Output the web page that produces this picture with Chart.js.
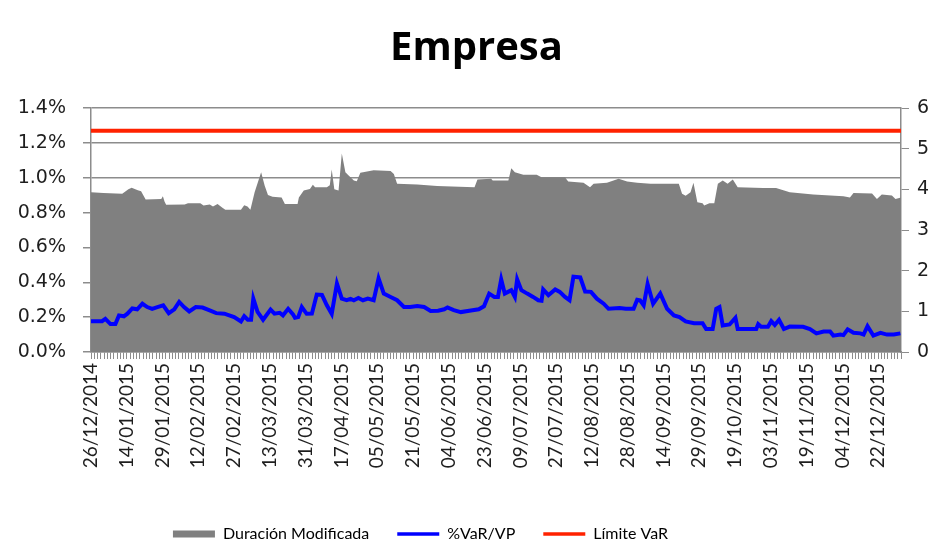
<!DOCTYPE html>
<html>
<head>
<meta charset="utf-8">
<script src="https://cdn.jsdelivr.net/npm/chart.js@4.4.0/dist/chart.umd.min.js"></script>
<style>
  html, body { margin: 0; padding: 0; background: #fff; overflow: hidden; }
  #wrap { width: 933px; height: 550px; overflow: hidden; }
</style>
</head>
<body>
<div id="wrap"><canvas id="empresaChart" width="953" height="550"></canvas></div>
<script>
// ================= DATA =================
// x = business-day index since 26/12/2014 (a label every 11 days)
const tickLabels = ['26/12/2014', '14/01/2015', '29/01/2015', '12/02/2015', '27/02/2015', '13/03/2015',
    '31/03/2015', '17/04/2015', '05/05/2015', '21/05/2015', '04/06/2015', '23/06/2015', '09/07/2015',
    '27/07/2015', '12/08/2015', '28/08/2015', '14/09/2015', '29/09/2015', '19/10/2015', '03/11/2015',
    '19/11/2015', '04/12/2015', '22/12/2015'];
const labelStep = 11;
const lastDay = 249;

// Duración Modificada (right axis)
const durDay = [0, 3.8, 9.6, 11.5, 12.5, 14.4, 15.4, 16.8, 21.6, 22.1, 22.6, 23.1, 28.8, 29.8, 33.6, 34.6,
    36.5, 37.5, 38.9, 40.4, 41.3, 46.1, 47.1, 48.1, 49, 50.3, 52.3, 53.4, 54.4, 55.8, 58.6, 59.6, 63.5,
    63.9, 65.4, 67.3, 68.2, 68.9, 72.5, 73.4, 74, 74.8, 76.1, 77.1, 78.2, 79.2, 80.8, 81.7, 82.8, 86.9,
    92.1, 93.1, 94.1, 100.3, 106.4, 117.9, 118.8, 123, 123.5, 128.3, 129.2, 130.3, 132.9, 137, 138.5,
    145.7, 146.7, 151.4, 153.4, 154.5, 158.6, 162.2, 164.8, 167.9, 172, 180.7, 181.7, 182.8, 184.3,
    185.2, 186.4, 188, 188.5, 190.1, 191.6, 192.7, 194.2, 195.7, 197.3, 198.8, 206.6, 210.6, 214.8,
    222, 231.3, 233.3, 234.4, 240.1, 241.6, 243.1, 246.2, 247.3, 249];
const durVal = [3.93, 3.91, 3.89, 4.0, 4.04, 3.98, 3.95, 3.75, 3.76, 3.83, 3.70, 3.62, 3.63, 3.66, 3.66, 3.60,
    3.63, 3.58, 3.64, 3.55, 3.50, 3.50, 3.61, 3.58, 3.50, 3.93, 4.42, 4.09, 3.86, 3.82, 3.80, 3.64, 3.64,
    3.80, 3.97, 4.01, 4.11, 4.05, 4.05, 4.10, 4.49, 4.0, 3.97, 4.88, 4.42, 4.34, 4.22, 4.20, 4.41, 4.47,
    4.45, 4.38, 4.14, 4.12, 4.08, 4.05, 4.24, 4.26, 4.22, 4.22, 4.52, 4.42, 4.36, 4.36, 4.30,
    4.30, 4.19, 4.16, 4.05, 4.14, 4.16, 4.26, 4.19, 4.16, 4.14, 4.14, 3.89, 3.84, 3.93,
    4.16, 3.68, 3.66, 3.60, 3.66, 3.66, 4.14, 4.22, 4.14, 4.24, 4.05, 4.03, 4.03, 3.93,
    3.87, 3.83, 3.80, 3.91, 3.90, 3.76, 3.87, 3.85, 3.76, 3.80];

// %VaR/VP (left axis, in %)
const varDay = [0, 3.4, 4.4, 6, 7.5, 8.6, 10.1, 11.2, 12.7, 14.2, 15.8, 17.3, 18.8, 20.4, 22.2, 23.9, 25.6,
    27.1, 28.6, 30.2, 32.2, 34.3, 36.3, 38.5, 41, 44, 46.1, 47.1, 48.2, 49.2, 49.9, 51.2, 52.9, 55.2,
    56.4, 58, 59, 60.6, 62.1, 62.7, 63.7, 64.8, 66.3, 67.9, 69.4, 71, 72.5, 74, 75.6, 77.1, 78.6, 79.8,
    80.8, 82.2, 83.6, 85.1, 86.9, 88.4, 90, 92.1, 94.1, 96.2, 98.1, 100.3, 102.4, 104.4, 106.7, 108.6,
    109.6, 111.5, 113.7, 116.3, 119.2, 120.8, 122.4, 124, 125.1, 126.1, 127.2, 128.2, 129.2, 130.3, 131,
    132.3, 134.1, 135.9, 137.5, 138.5, 139, 140.6, 142.7, 144.1, 145.7, 147.1, 148.3, 150.4, 151.9,
    153.7, 155.5, 157.6, 159.1, 162.5, 164.4, 166.8, 167.9, 168.8, 169.9, 171.1, 172.8, 175, 177.1,
    179.2, 180.9, 182.8, 185.4, 188, 189.1, 191.1, 192.2, 193.2, 194.2, 196.3, 198.1, 198.8, 204.5,
    205.1, 206, 208.1, 209.1, 210.2, 211.5, 213, 214.8, 218.9, 221, 223, 225.2, 227.2, 228.2, 230.4,
    231.3, 232.6, 234.4, 236.5, 237.5, 238.7, 240.5, 242.7, 244.7, 246.8, 248.8];
const varVal = [0.177, 0.177, 0.19, 0.16, 0.16, 0.21, 0.205, 0.22, 0.25, 0.245, 0.277, 0.258, 0.248, 0.258,
    0.268, 0.223, 0.245, 0.287, 0.258, 0.233, 0.258, 0.255, 0.24, 0.223, 0.22, 0.2, 0.175, 0.205, 0.185,
    0.185, 0.306, 0.23, 0.185, 0.243, 0.22, 0.225, 0.21, 0.248, 0.216, 0.196, 0.2, 0.258, 0.219, 0.22,
    0.33, 0.328, 0.268, 0.219, 0.393, 0.306, 0.297, 0.305, 0.297, 0.31, 0.297, 0.307, 0.297, 0.422,
    0.335, 0.316, 0.297, 0.258, 0.258, 0.264, 0.258, 0.235, 0.237, 0.245, 0.256, 0.24, 0.229, 0.237,
    0.245, 0.262, 0.335, 0.316, 0.316, 0.417, 0.335, 0.345, 0.355, 0.316, 0.417, 0.355, 0.335, 0.316,
    0.297, 0.294, 0.359, 0.326, 0.359, 0.345, 0.316, 0.297, 0.432, 0.428, 0.347, 0.345, 0.306, 0.277,
    0.248, 0.252, 0.248, 0.248, 0.3, 0.297, 0.268, 0.39, 0.277, 0.335, 0.248, 0.21, 0.2, 0.175, 0.165,
    0.165, 0.132, 0.132, 0.248, 0.258, 0.152, 0.158, 0.196, 0.132, 0.132, 0.16, 0.145, 0.145, 0.177,
    0.155, 0.185, 0.132, 0.146, 0.145, 0.132, 0.107, 0.117, 0.117, 0.094, 0.1, 0.097, 0.13, 0.11,
    0.107, 0.1, 0.148, 0.094, 0.11, 0.1, 0.1, 0.107];

// Límite VaR (left axis, in %)
const limitDay = [0, 249];
const limitVal = [1.27, 1.27];

// ================= CHART =================
const toPoints = (xs, ys) => xs.map((x, i) => ({x: x, y: ys[i]}));
const axisGray = '#8c8c8c';
const textColor = '#1e1e1e';

const legendItems = [
    {text: 'Duración Modificada', fillStyle: '#808080', strokeStyle: '#808080', lineWidth: 0, pointStyle: 'rect'},
    {text: '%VaR/VP', fillStyle: '#0000ff', strokeStyle: '#0000ff', lineWidth: 3.5, pointStyle: 'line'},
    {text: 'Límite VaR', fillStyle: '#ff2200', strokeStyle: '#ff2200', lineWidth: 3.5, pointStyle: 'line'}
];

// Excel puts the legend left of centre, slightly lower
const moveLegend = {
    id: 'moveLegend',
    afterLayout(chart) {
        const lg = chart.legend;
        lg.left -= 56; lg.right -= 56;
        lg.top += 2; lg.bottom += 2;
    }
};

new Chart(document.getElementById('empresaChart'), {
    type: 'line',
    data: {
        datasets: [{
            label: 'Duración Modificada',
            data: toPoints(durDay, durVal),
            yAxisID: 'y2',
            fill: 'origin',
            backgroundColor: '#808080',
            borderColor: 'transparent',
            borderWidth: 0,
            pointRadius: 0,
            order: 3
        }, {
            label: '%VaR/VP',
            data: toPoints(varDay, varVal),
            yAxisID: 'y',
            borderColor: '#0000ff',
            borderWidth: 4,
            pointRadius: 0,
            fill: false,
            order: 1
        }, {
            label: 'Límite VaR',
            data: toPoints(limitDay, limitVal),
            yAxisID: 'y',
            borderColor: '#ff2200',
            borderWidth: 4,
            pointRadius: 0,
            fill: false,
            order: 2
        }]
    },
    options: {
        responsive: false,
        animation: false,
        layout: {padding: 0},
        plugins: {
            title: {
                display: true,
                text: 'Empresa',
                color: '#000',
                font: {family: 'Open Sans', size: 40, weight: 'bold'},
                padding: {top: 25, bottom: 35}
            },
            legend: {
                position: 'bottom',
                labels: {
                    font: {family: 'Lato', size: 16},
                    color: textColor,
                    padding: 28,
                    usePointStyle: true,
                    pointStyleWidth: 42,
                    boxHeight: 7,
                    generateLabels: () => legendItems.map(it => Object.assign({}, it))
                }
            },
            tooltip: {enabled: false}
        },
        scales: {
            x: {
                type: 'linear',
                min: 0,
                max: lastDay,
                afterFit: (axis) => { axis.height = 144; },
                grid: {display: true, drawOnChartArea: false, drawTicks: true, tickLength: 7, color: axisGray},
                border: {color: axisGray, width: 1.5},
                ticks: {
                    stepSize: 1,
                    autoSkip: false,
                    includeBounds: false,
                    minRotation: 90,
                    maxRotation: 90,
                    padding: 4,
                    color: textColor,
                    font: {family: 'Lato', size: 19},
                    callback: (v) => (v % labelStep === 0 ? tickLabels[v / labelStep] : '')
                }
            },
            y: {
                position: 'left',
                min: 0,
                max: 1.4,
                afterFit: (axis) => { axis.width = 91; },
                grid: {color: axisGray, lineWidth: 1.5, tickLength: 8},
                border: {color: axisGray, width: 1.5},
                ticks: {
                    stepSize: 0.2,
                    padding: 17,
                    color: textColor,
                    font: {family: 'DejaVu Sans', size: 19},
                    callback: (v) => v.toFixed(1) + '%'
                }
            },
            y2: {
                position: 'right',
                min: 0,
                max: 6,
                afterFit: (axis) => { axis.width = 52; },
                grid: {drawOnChartArea: false, color: axisGray, tickLength: 8},
                border: {color: axisGray, width: 1.5},
                ticks: {
                    stepSize: 1,
                    padding: 8,
                    color: textColor,
                    font: {family: 'DejaVu Sans', size: 19}
                }
            }
        }
    },
    plugins: [moveLegend]
});
</script>
</body>
</html>
